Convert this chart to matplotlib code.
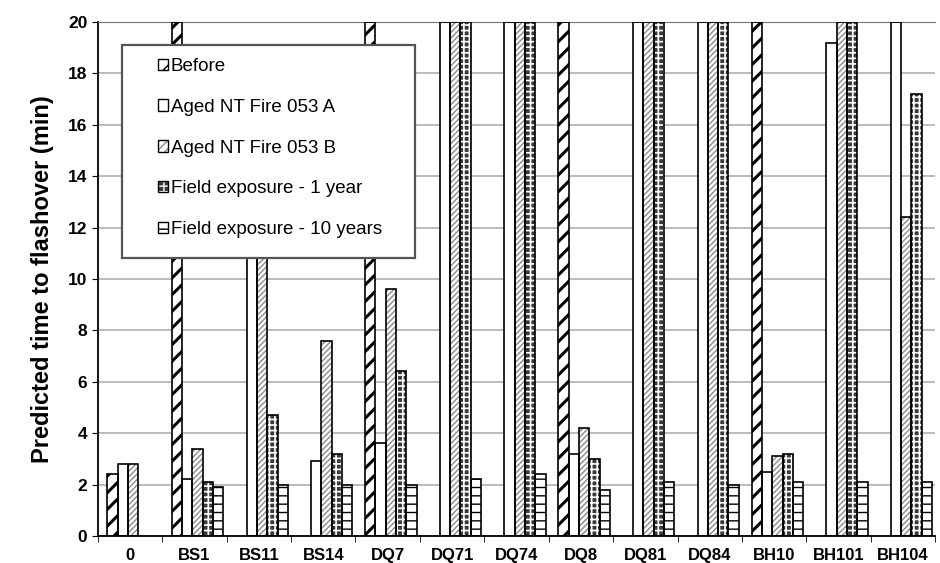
import numpy as np
import matplotlib
matplotlib.use('Agg')
import matplotlib.pyplot as plt
from matplotlib.patches import Rectangle, Patch
from matplotlib.legend_handler import HandlerTuple

plt.rcParams['font.family'] = ['Liberation Sans', 'DejaVu Sans']

nan = np.nan
cats = ['0', 'BS1', 'BS11', 'BS14', 'DQ7', 'DQ71', 'DQ74', 'DQ8', 'DQ81', 'DQ84', 'BH10', 'BH101', 'BH104']
before = [2.4, 20, nan, nan, 20, nan, nan, 20, nan, nan, 20, nan, nan]
aged_a = [2.8, 2.2, 15.0, 2.9, 3.6, 20, 20, 3.2, 20, 20, 2.5, 19.2, 20]
aged_b = [2.8, 3.4, 14.0, 7.6, 9.6, 20, 20, 4.2, 20, 20, 3.1, 20, 12.4]
field_1 = [nan, 2.1, 4.7, 3.2, 6.4, 20, 20, 3.0, 20, 20, 3.2, 20, 17.2]
field_10 = [nan, 1.9, 2.0, 2.0, 2.0, 2.2, 2.4, 1.8, 2.1, 2.0, 2.1, 2.1, 2.1]
series_names = ['Before', 'Aged NT Fire 053 A', 'Aged NT Fire 053 B',
                'Field exposure - 1 year', 'Field exposure - 10 years']

# fill colour, hatch, hatch colour, hatch width
styles = [
    ('white', '//', 'black', 2.2),
    ('white', '', 'black', 1.0),
    ('white', '//////', '#8a8a8a', 1.0),
    ('#3a3a3a', '+++', 'white', 1.2),
    ('white', '--', 'black', 1.0),
]

fig = plt.figure(figsize=(9.4, 5.63), dpi=100)
ax = fig.add_axes([0.104, 0.048, 0.891, 0.913])

x = np.arange(len(cats))
w = 0.16
handles = []
for j, vals in enumerate([before, aged_a, aged_b, field_1, field_10]):
    fc, hatch, hc, hlw = styles[j]
    pos = x + (j - 2) * w + 0.05
    ax.bar(pos, vals, w, color=fc, hatch=hatch, edgecolor=hc, linewidth=0,
           hatch_linewidth=hlw, zorder=2)
    ax.bar(pos, vals, w, facecolor='none', edgecolor='black', linewidth=1.2, zorder=3)
    # legend swatch: small hatched square with a black outline
    fill = Patch(facecolor=fc, hatch=hatch.replace('//////', '////'), edgecolor=hc,
                 linewidth=0, hatch_linewidth=min(hlw, 1.0))
    edge = Patch(facecolor='none', edgecolor='black', linewidth=1.0)
    handles.append((fill, edge))

ax.set_xlim(-0.5, len(cats) - 0.5)
ax.set_ylim(0, 20)
ax.set_yticks(np.arange(0, 21, 2))
ax.set_xticks(x)
ax.set_xticklabels(cats, fontsize=12, fontweight='bold')
ax.tick_params(axis='y', labelsize=12.5, length=4)
for t in ax.get_yticklabels():
    t.set_fontweight('bold')
ax.tick_params(axis='x', length=0, pad=9)
ax.set_xticks(np.arange(-0.5, len(cats), 1), minor=True)
ax.tick_params(axis='x', which='minor', length=4)
ax.yaxis.grid(True, color='#b0b0b0', linewidth=1.2, zorder=0)
ax.set_axisbelow(True)
ax.spines['right'].set_visible(False)
ax.spines['top'].set_color('#777777')
ax.spines['left'].set_linewidth(1.3)
ax.spines['bottom'].set_linewidth(1.3)
ax.set_ylabel('Predicted time to flashover (min)', fontsize=17, fontweight='bold', labelpad=10)

# legend box drawn separately so the entries can sit well inside it
box = Rectangle((0.029, 0.541), 0.35, 0.414, transform=ax.transAxes,
                facecolor='white', edgecolor='#555555', linewidth=1.6, zorder=4)
ax.add_patch(box)
leg = ax.legend(handles=handles, labels=series_names, loc='upper left',
                bbox_to_anchor=(0.0717, 0.93), fontsize=13.5,
                handler_map={tuple: HandlerTuple(ndivide=1, pad=0)},
                handlelength=0.55, handleheight=0.55, handletextpad=0.15,
                labelspacing=1.27, borderpad=0, borderaxespad=0, frameon=False)
leg.set_zorder(5)

fig.savefig('out.png', dpi=100)
